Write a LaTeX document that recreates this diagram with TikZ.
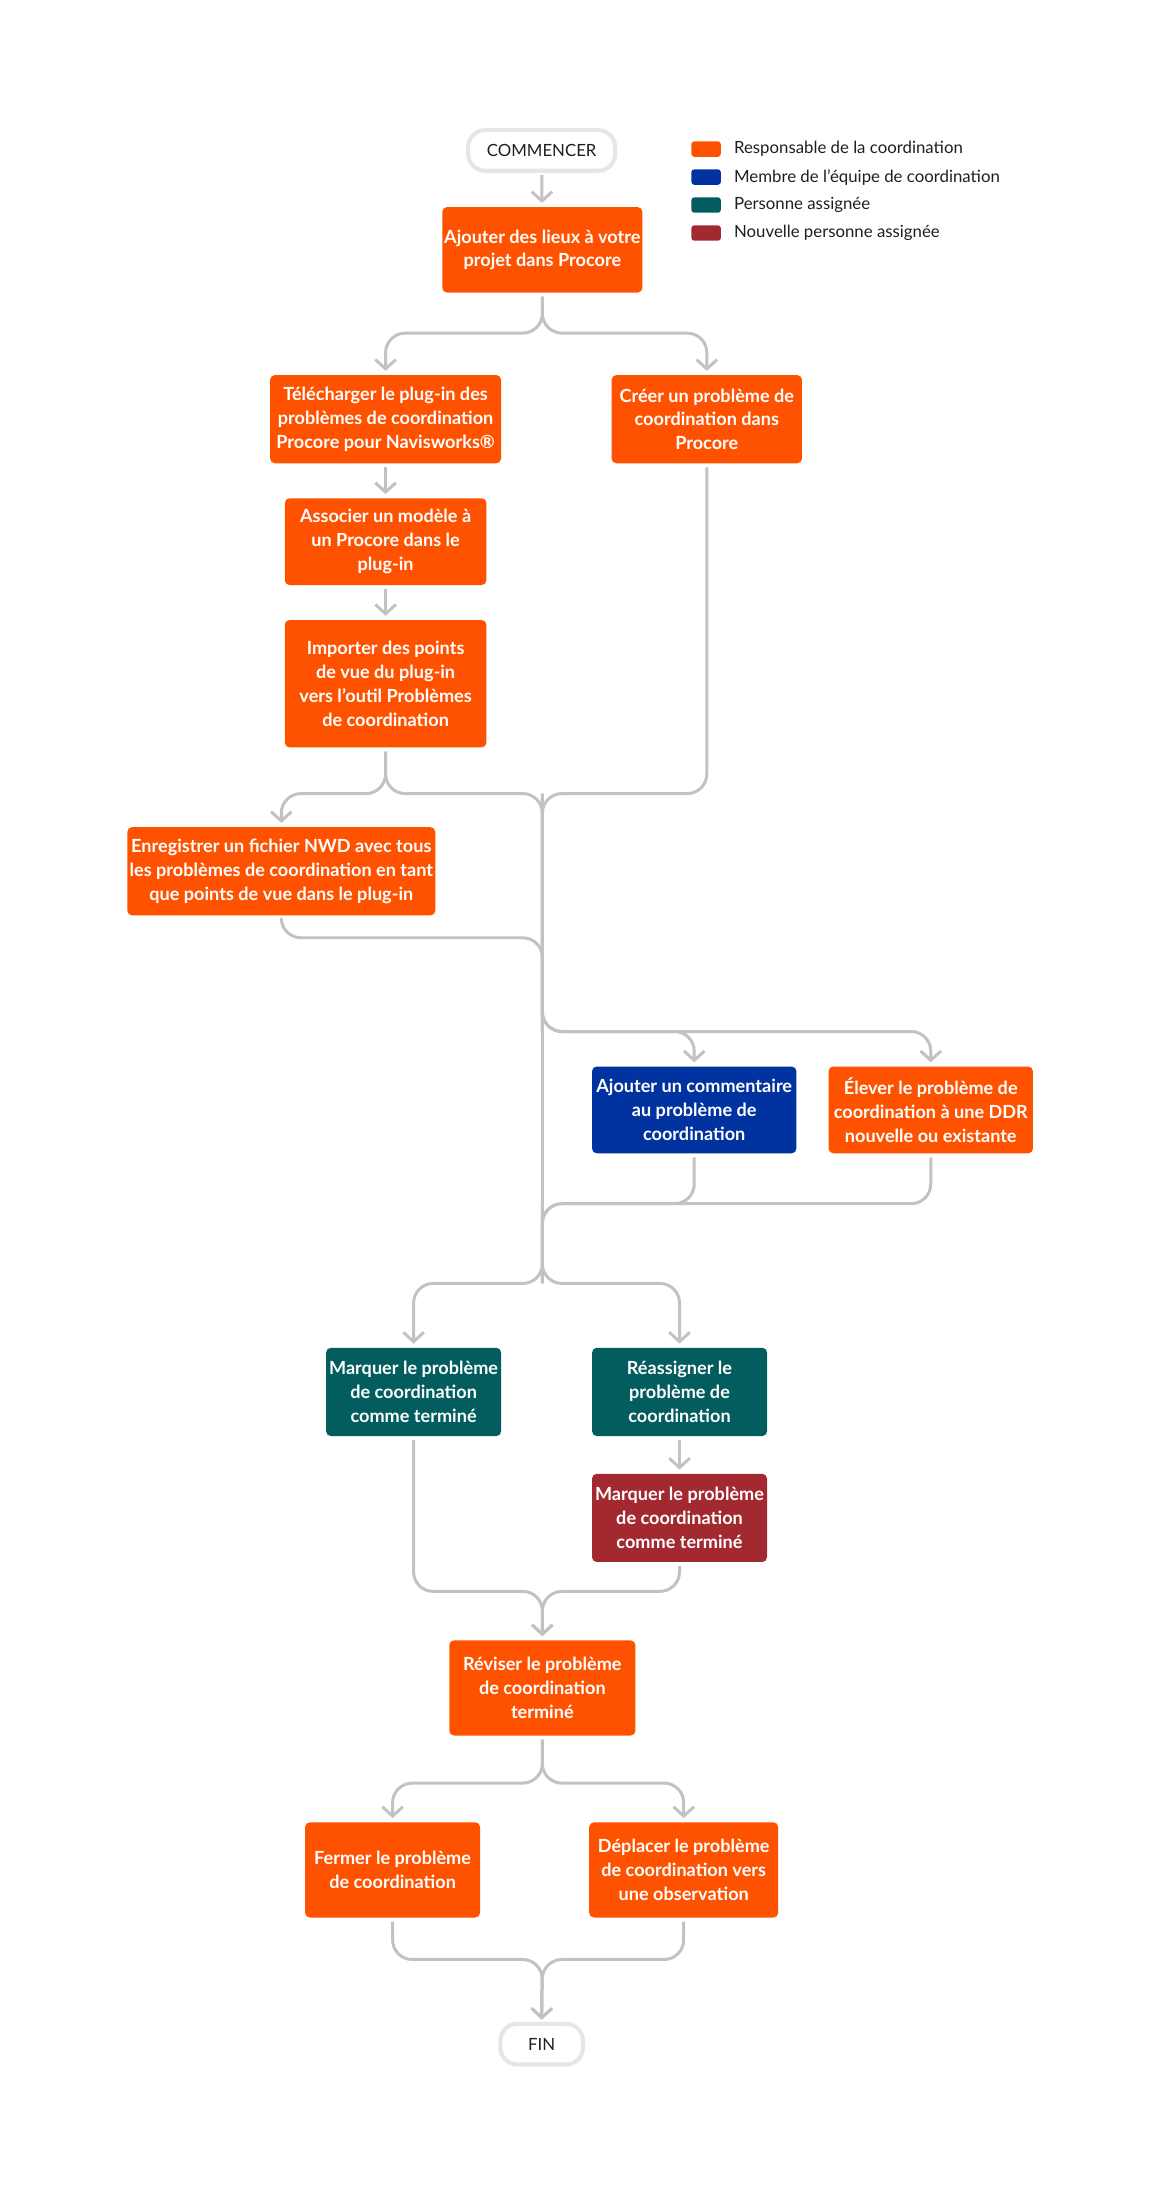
\documentclass[tikz,border=0pt]{standalone}
\usepackage{fontspec}
\setmainfont{Lato}
\usetikzlibrary{arrows.meta}

\definecolor{respcol}{HTML}{FF5200}
\definecolor{membrecol}{HTML}{0033A0}
\definecolor{assigncol}{HTML}{035C5D}
\definecolor{nouvcol}{HTML}{A1292F}
\definecolor{linkcol}{HTML}{C2C2C2}
\definecolor{termcol}{HTML}{E6E6E6}
\definecolor{txtcol}{HTML}{1F1F1F}

\newcommand{\boxfont}{\fontsize{9.7}{12.75}\selectfont\bfseries}
\newcommand{\legfont}{\fontsize{9}{11}\selectfont}

\tikzset{every picture/.style={line width=0.75pt}}
\tikzset{
  stepbox/.style={rounded corners=2.5pt, text=white, font=\boxfont, align=center, inner sep=0pt, outer sep=2.25pt},
  resp/.style={stepbox, fill=respcol},
  membre/.style={stepbox, fill=membrecol},
  assign/.style={stepbox, fill=assigncol},
  nouv/.style={stepbox, fill=nouvcol},
  term/.style={draw=termcol, line width=2.2pt, fill=white, rounded corners=9pt, text=txtcol, font=\legfont, inner sep=0pt, outer sep=2.25pt},
  link/.style={draw=linkcol, line width=1.6pt, rounded corners=10.5pt},
  ->/.style={-{Straight Barb[length=5pt,width=11pt,line width=1.6pt]}},
  legsq/.style={rounded corners=1.5pt, minimum width=15.75pt, minimum height=8.25pt, inner sep=0pt},
  legtxt/.style={anchor=west, text=txtcol, font=\legfont, inner sep=0pt}
}

\begin{document}
\begin{tikzpicture}[x=0.75pt,y=0.75pt,yscale=-1,xscale=1]
	\useasboundingbox (0,0) rectangle (833,1574);

	%Terminators
	\node[term, minimum width=78.75pt, minimum height=21.75pt] (start) at (387,107.5) {COMMENCER};
	\node[term, minimum width=44.25pt, minimum height=21.75pt] (fin) at (387,1460.5) {FIN};

	%Steps
	\node[resp, minimum width=107.25pt, minimum height=45.75pt] (b1) at (387.5,178.5) {Ajouter des lieux à votre\\projet dans Procore};
	\node[resp, minimum width=123.75pt, minimum height=47.25pt] (b2) at (275.5,299.5) {Télécharger le plug-in des\\problèmes de coordination\\Procore pour Navisworks®};
	\node[resp, minimum width=102pt, minimum height=47.25pt] (b3) at (505,299.5) {Créer un problème de\\coordination dans\\Procore};
	\node[resp, minimum width=108pt, minimum height=46.5pt] (b4) at (275.5,387) {Associer un modèle à\\un Procore dans le\\plug-in};
	\node[resp, minimum width=108pt, minimum height=68.25pt] (b5) at (275.5,488.5) {Importer des points\\de vue du plug-in\\vers l'outil Problèmes\\de coordination};
	\node[resp, minimum width=165pt, minimum height=47.25pt] (b6) at (201,622.5) {Enregistrer un fichier NWD avec tous\\les problèmes de coordination en tant\\que points de vue dans le plug-in};
	\node[membre, minimum width=109.5pt, minimum height=46.5pt] (b7) at (496,793) {Ajouter un commentaire\\au problème de\\coordination};
	\node[resp, minimum width=109.5pt, minimum height=46.5pt] (b8) at (665,793) {Élever le problème de\\coordination à une DDR\\nouvelle ou existante};
	\node[assign, minimum width=93.75pt, minimum height=47.25pt] (b9) at (295.5,994.5) {Marquer le problème\\de coordination\\comme terminé};
	\node[assign, minimum width=93.75pt, minimum height=47.25pt] (b10) at (485.5,994.5) {Réassigner le\\problème de\\coordination};
	\node[nouv, minimum width=93.75pt, minimum height=47.25pt] (b11) at (485.5,1084.5) {Marquer le problème\\de coordination\\comme terminé};
	\node[resp, minimum width=99.75pt, minimum height=51pt] (b12) at (387.5,1206) {Réviser le problème\\de coordination\\terminé};
	\node[resp, minimum width=93.75pt, minimum height=51pt] (b13) at (280.5,1336) {Fermer le problème\\de coordination};
	\node[resp, minimum width=101.25pt, minimum height=51pt] (b14) at (488.5,1336) {Déplacer le problème\\de coordination vers\\une observation};

	%Junctions
	\coordinate (s1) at (387.5,238);
	\coordinate (j1) at (387.5,567);
	\coordinate (j2) at (387.5,670);
	\coordinate (j3) at (387.5,737);
	\coordinate (j4) at (387.5,860);
	\coordinate (j5) at (387.5,917);
	\coordinate (j6) at (387.5,1137);
	\coordinate (j7) at (387.5,1274);
	\coordinate (j8) at (387.5,1400);

	%Connectors
	\draw[link,->] (start) -- (b1);
	\draw[link,->] (b1.south) -- (s1) -| (b2.north);
	\draw[link,->] (b1.south) -- (s1) -| (b3.north);
	\draw[link,->] (b2) -- (b4);
	\draw[link,->] (b4) -- (b5);
	\draw[link,->] (b5.south) -- (b5.south |- j1) -| (b6.north);
	\draw[link] (b5.south) |- (j1) -- (j3);
	\draw[link] (b3.south) |- (j1) -- (j3);
	\draw[link] (b6.south) |- (j2) -- (j3);
	\draw[link,->] (j1) -- (j3) -| (b7.north);
	\draw[link,->] (j1) -- (j3) -| (b8.north);
	\draw[link] (j3) -- (j4);
	\draw[link] (b7.south) |- (j4) -- (j5);
	\draw[link] (b8.south) |- (j4) -- (j5);
	\draw[link,->] (j4) -- (j5) -| (b9.north);
	\draw[link,->] (j4) -- (j5) -| (b10.north);
	\draw[link,->] (b10) -- (b11);
	\draw[link,->] (b9.south) |- (j6) -- (b12.north);
	\draw[link,->] (b11.south) |- (j6) -- (b12.north);
	\draw[link,->] (b12.south) -- (j7) -| (b13.north);
	\draw[link,->] (b12.south) -- (j7) -| (b14.north);
	\draw[link,->] (b13.south) |- (j8) -- (fin.north);
	\draw[link,->] (b14.south) |- (j8) -- (fin.north);

	%Legend
	\node[legsq, fill=respcol] (lg1) at (504.5,106.5) {};
	\node[legsq, fill=membrecol] (lg2) at (504.5,126.5) {};
	\node[legsq, fill=assigncol] (lg3) at (504.5,146.5) {};
	\node[legsq, fill=nouvcol] (lg4) at (504.5,166.5) {};
	% Text Node
	\node[legtxt] (lt1) at (524,106.5) {Responsable de la coordination};
	% Text Node
	\node[legtxt] (lt2) at (524,126.5) {Membre de l'équipe de coordination};
	% Text Node
	\node[legtxt] (lt3) at (524,146.5) {Personne assignée};
	% Text Node
	\node[legtxt] (lt4) at (524,166.5) {Nouvelle personne assignée};

\end{tikzpicture}
\end{document}
